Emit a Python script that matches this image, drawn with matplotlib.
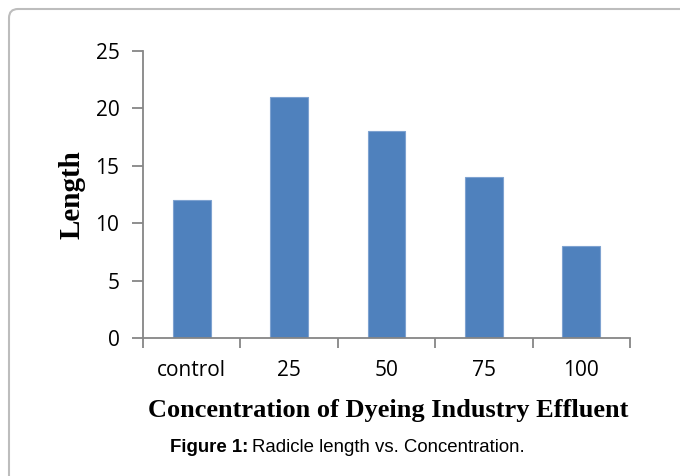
import numpy as np
import matplotlib
matplotlib.use('Agg')
import matplotlib.pyplot as plt
from matplotlib.path import Path
from matplotlib.patches import PathPatch

categories = ['control', '25', '50', '75', '100']
lengths = [12, 21, 18, 14, 8]
yticks = [0, 5, 10, 15, 20, 25]

W, H = 683, 476
fig = plt.figure(figsize=(W / 100, H / 100), dpi=100)

# frame of the figure panel (top and left edges with rounded corner)
r = 9
verts = [(9 / W, 0), (9 / W, 1 - (9 + r) / H), (9 / W, 1 - 9 / H),
         ((9 + r) / W, 1 - 9 / H), (680 / W, 1 - 9 / H)]
codes = [Path.MOVETO, Path.LINETO, Path.CURVE3, Path.CURVE3, Path.LINETO]
fig.patches.append(PathPatch(Path(verts, codes), transform=fig.transFigure,
                             fill=False, edgecolor='#bdbdbd', lw=1.5))

ax = fig.add_axes([143 / W, 1 - 338 / H, (630 - 143) / W, (338 - 51) / H])

x = np.arange(len(categories))
ax.bar(x, lengths, width=0.39, color='#4F81BD', edgecolor='#7ea2d0', linewidth=0.8)

ax.set_xlim(-0.5, len(categories) - 0.5)
ax.set_ylim(0, 25)
ax.set_yticks(yticks)
ax.set_xticks(x)
ax.set_xticklabels(categories)
ax.set_xticks(np.arange(-0.5, len(categories), 1), minor=True)

for s in ['top', 'right']:
    ax.spines[s].set_visible(False)
for s in ['left', 'bottom']:
    ax.spines[s].set_color('#868686')
    ax.spines[s].set_linewidth(1.3)

ax.tick_params(axis='x', which='major', length=0, pad=16, labelsize=15)
ax.tick_params(axis='x', which='minor', length=7, width=1.3, color='#868686', direction='out')
ax.tick_params(axis='y', length=8, width=1.3, color='#868686', pad=9, labelsize=15)
for lab in ax.get_xticklabels() + ax.get_yticklabels():
    lab.set_fontfamily('Open Sans')

ax.set_ylabel('Length', fontfamily='Liberation Serif', fontweight='bold', fontsize=21, va='center')
ax.yaxis.set_label_coords((72 - 143) / 487, 0.5)
ax.set_xlabel('Concentration of Dyeing Industry Effluent', fontfamily='Liberation Serif',
              fontweight='bold', fontsize=19, va='center')
ax.xaxis.set_label_coords((388 - 143) / 487, (338 - 410) / 287)

t1 = fig.text(170 / W, 1 - 447 / H, 'Figure 1:', fontfamily='Liberation Sans', fontweight='bold',
              fontsize=13.4, va='center', ha='left')
fig.canvas.draw()
bb = t1.get_window_extent()
fig.text((bb.x1 + 4) / W, 1 - 447 / H, 'Radicle length vs. Concentration.',
         fontfamily='Liberation Sans', fontsize=13.4, va='center', ha='left')

fig.savefig('out.png', dpi=100)
